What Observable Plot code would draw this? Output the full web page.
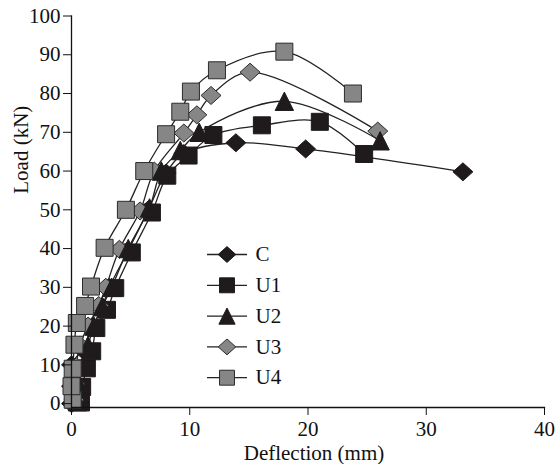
<!DOCTYPE html>
<html>
<head>
<meta charset="utf-8">
<script src="https://cdn.jsdelivr.net/npm/d3@7"></script>
<script src="https://cdn.jsdelivr.net/npm/@observablehq/plot@0.6"></script>
<style>
  html, body { margin: 0; padding: 0; background: #fff; }
  #chart svg { display: block; }
  #chart svg, #chart svg text { font-family: "Liberation Serif", "Times New Roman", serif !important; }
</style>
</head>
<body>
<div id="chart"></div>
<script>
// ---- Data ----
const seriesNames = ["C", "U1", "U2", "U3", "U4"];

const C_defl  = [0, 0, 0, 0.9, 1.8, 2.6, 3.2, 4.8, 6.5, 8.0, 9.5, 13.9, 19.8, 33.1];
const C_load  = [0, 4.5, 10, 14, 20, 25, 30, 39.5, 50, 59.5, 64.5, 67.3, 65.7, 59.8];

const U1_defl = [0.8, 0.9, 1.3, 1.75, 2.1, 3.0, 3.7, 5.1, 6.8, 8.1, 9.9, 12.0, 16.1, 21.0, 24.75];
const U1_load = [0.3, 4.3, 9.1, 13.5, 19.5, 24.2, 29.8, 39, 49.3, 58.8, 64, 69.3, 71.8, 72.7, 64.4];

const U2_defl = [0.5, 0.6, 1.0, 1.4, 1.9, 2.6, 3.4, 4.8, 6.6, 7.6, 9.2, 10.8, 18.0, 26.1];
const U2_load = [0.5, 5, 10, 15, 20, 25, 30, 40, 50.5, 60, 65.3, 70, 78, 67.8];

const U3_defl = [0.2, 0.3, 0.4, 0.7, 1.4, 2.3, 2.9, 4.05, 5.8, 7.0, 9.5, 10.6, 11.8, 15.1, 25.9];
const U3_load = [1, 5, 9.5, 15, 20, 25.3, 30, 39.8, 49.7, 60, 69.8, 74.5, 79.5, 85.5, 70.3];

const U4_defl = [0.1, 0, 0.1, 0.25, 0.45, 1.15, 1.65, 2.8, 4.6, 6.15, 8.0, 9.2, 10.1, 12.3, 18.0, 23.8];
const U4_load = [1, 4.5, 9, 15.2, 20.8, 25.2, 30.2, 40.2, 50, 60, 69.5, 75.3, 80.5, 86, 90.8, 80];

const xTicks = [0, 10, 20, 30, 40];
const yTicks = [0, 10, 20, 30, 40, 50, 60, 70, 80, 90, 100];
const xLabel = "Deflection (mm)";
const yLabel = "Load (kN)";

// ---- Build tables ----
const raw = {C: [C_defl, C_load], U1: [U1_defl, U1_load], U2: [U2_defl, U2_load], U3: [U3_defl, U3_load], U4: [U4_defl, U4_load]};
const tables = {};
for (const s of seriesNames) {
  const [xs, ys] = raw[s];
  tables[s] = xs.map((x, i) => ({series: s, defl: x, load: ys[i]}));
}

// ---- Custom marker shapes ----
const diamond = {draw(ctx, size) { const r = Math.sqrt(size / Math.PI); const w = r, h = r * 0.9;
  ctx.moveTo(0, -h); ctx.lineTo(w, 0); ctx.lineTo(0, h); ctx.lineTo(-w, 0); ctx.closePath(); }};
const square = {draw(ctx, size) { const r = Math.sqrt(size / Math.PI); const a = r * 0.85;
  ctx.rect(-a, -a, 2 * a, 2 * a); }};
const triangle = {draw(ctx, size) { const r = Math.sqrt(size / Math.PI); const w = r * 0.92, h = r * 0.92;
  ctx.moveTo(0, -h); ctx.lineTo(w, h); ctx.lineTo(-w, h); ctx.closePath(); }};
const hline = {draw(ctx) { ctx.moveTo(-20, 0); ctx.lineTo(20, 0); }};

const black = "#1f1b1c";
const gray = "#868686";
const grayStroke = "#2b2b2b";
const styles = {
  C:  {symbol: diamond,  fill: black, stroke: black},
  U1: {symbol: square,   fill: black, stroke: black},
  U2: {symbol: triangle, fill: black, stroke: black},
  U3: {symbol: diamond,  fill: gray,  stroke: grayStroke},
  U4: {symbol: square,   fill: gray,  stroke: grayStroke}
};

const drawOrder = ["C", "U1", "U3", "U2", "U4"];
const font = '"Liberation Serif", "Times New Roman", serif';
const fs = 21;

const marks = [];
for (const s of drawOrder) {
  const st = styles[s];
  marks.push(Plot.line(tables[s], {x: "defl", y: "load", curve: "catmull-rom", stroke: "#222", strokeWidth: 1.3}));
  marks.push(Plot.dot(tables[s], {x: "defl", y: "load", symbol: st.symbol, r: 10, fill: st.fill, stroke: st.stroke, strokeWidth: 1}));
}

// Legend
seriesNames.forEach((s, i) => {
  const st = styles[s];
  const dy = 238.5 + i * 30.8;
  marks.push(Plot.dot([s], {frameAnchor: "top-left", dx: 155.5, dy, symbol: hline, fill: "none", stroke: "#222", strokeWidth: 1.3}));
  marks.push(Plot.dot([s], {frameAnchor: "top-left", dx: 155.5, dy, symbol: st.symbol, r: 8.8, fill: st.fill, stroke: st.stroke, strokeWidth: 1}));
  marks.push(Plot.text([s], {frameAnchor: "top-left", dx: 184, dy, text: d => d, textAnchor: "start", lineAnchor: "middle", fontSize: fs, fontFamily: font, fill: "#111"}));
});

// Axes
marks.push(Plot.axisX({ticks: xTicks, tickSize: 8, tickPadding: 6, label: null, fontSize: fs, fontFamily: font, tickFormat: d => d}));
marks.push(Plot.axisY({ticks: yTicks, tickSize: 8, tickPadding: 3, label: null, fontSize: fs, fontFamily: font, tickFormat: d => d}));
marks.push(Plot.frame({anchor: "bottom", stroke: "#111", strokeWidth: 1.3}));
marks.push(Plot.frame({anchor: "left", stroke: "#111", strokeWidth: 1.3}));
marks.push(Plot.text([xLabel], {frameAnchor: "bottom", dx: 6, dy: 46, text: d => d, lineAnchor: "middle", fontSize: fs, fontFamily: font, fill: "#111"}));
marks.push(Plot.text([yLabel], {frameAnchor: "left", dx: -50, dy: -18, rotate: -90, text: d => d, lineAnchor: "middle", fontSize: fs, fontFamily: font, fill: "#111"}));

const chart = Plot.plot({
  width: 559,
  height: 464,
  marginLeft: 71,
  marginRight: 15,
  marginTop: 15.5,
  marginBottom: 57,
  style: {fontFamily: font, fontSize: fs + "px", color: "#111", background: "#fff", overflow: "visible"},
  x: {domain: [0, 40]},
  y: {domain: [-1, 100]},
  marks
});
document.getElementById("chart").appendChild(chart);
</script>
</body>
</html>
